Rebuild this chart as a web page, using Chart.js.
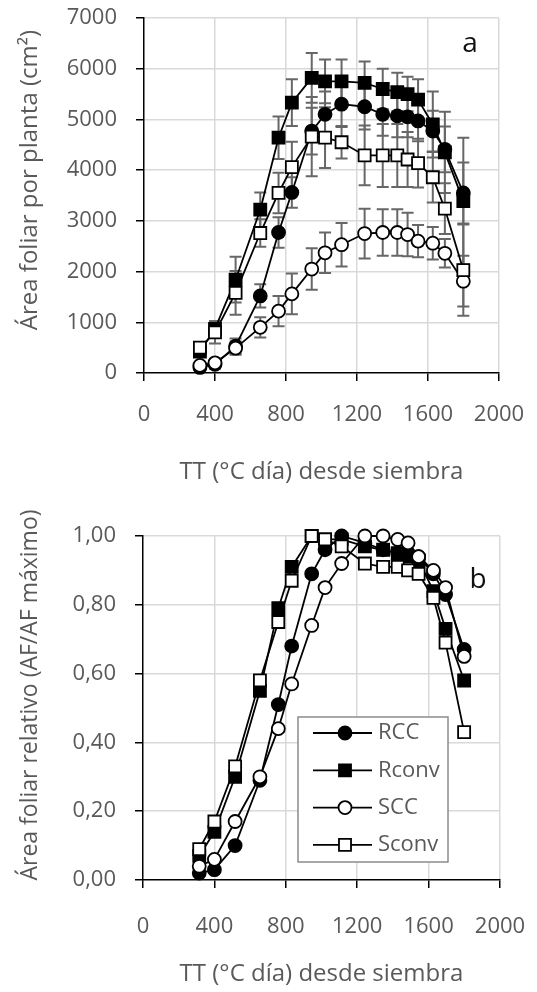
<!DOCTYPE html>
<html>
<head>
<meta charset="utf-8">
<script src="https://cdn.jsdelivr.net/npm/chart.js@4.4.1/dist/chart.umd.min.js"></script>
<style>
  html, body { margin: 0; padding: 0; background: #fff; }
  #wrap { position: relative; width: 537px; height: 992px; }
  canvas { position: absolute; left: 0; }
</style>
</head>
<body>
<div id="wrap">
  <canvas id="chartA" width="537" height="496" style="top:0"></canvas>
  <canvas id="chartB" width="537" height="496" style="top:496px"></canvas>
</div>
<script>
// tiempo termico desde siembra (°C dia)
const tt = [315, 400, 516, 655, 758, 833, 945, 1020, 1113, 1243, 1345, 1427, 1485, 1544, 1627, 1695, 1799];
const xTicks = [0, 400, 800, 1200, 1600, 2000];
const seriesNames = ["RCC", "Rconv", "SCC", "Sconv"];

// (a) area foliar por planta, cm2
const rccArea   = [110, 170, 530, 1520, 2770, 3560, 4770, 5100, 5300, 5250, 5100, 5070, 5050, 4970, 4770, 4410, 3550];
const rconvArea = [420, 870, 1840, 3220, 4640, 5330, 5820, 5750, 5750, 5720, 5600, 5540, 5500, 5390, 4900, 4350, 3390];
const sccArea   = [150, 200, 490, 900, 1220, 1560, 2050, 2370, 2530, 2750, 2770, 2770, 2730, 2600, 2560, 2360, 1810];
const sconvArea = [500, 800, 1580, 2760, 3550, 4060, 4660, 4640, 4550, 4290, 4290, 4290, 4210, 4140, 3860, 3240, 2030];

// error bars (+/-), cm2
const rccErr   = [50, 80, 150, 230, 300, 300, 460, 450, 450, 450, 420, 420, 400, 400, 400, 450, 600];
const rconvErr = [100, 150, 450, 340, 420, 460, 490, 430, 430, 420, 400, 380, 340, 400, 650, 800, 1250];
const sccErr   = [40, 60, 130, 200, 300, 400, 410, 400, 430, 490, 460, 460, 430, 320, 320, 280, 500];
const sconvErr = [100, 220, 430, 270, 400, 500, 780, 600, 320, 590, 620, 620, 540, 480, 500, 500, 900];

// (b) area foliar relativa (AF/AF maximo)
const rccRel   = [0.02, 0.03, 0.10, 0.29, 0.51, 0.68, 0.89, 0.96, 1.00, 0.98, 0.96, 0.95, 0.95, 0.94, 0.89, 0.83, 0.67];
const rconvRel = [0.07, 0.14, 0.30, 0.55, 0.79, 0.91, 1.00, 0.99, 0.99, 0.97, 0.96, 0.95, 0.94, 0.93, 0.84, 0.73, 0.58];
const sccRel   = [0.04, 0.06, 0.17, 0.30, 0.44, 0.57, 0.74, 0.85, 0.92, 1.00, 1.00, 0.99, 0.98, 0.94, 0.90, 0.85, 0.65];
const sconvRel = [0.09, 0.17, 0.33, 0.58, 0.75, 0.87, 1.00, 0.99, 0.97, 0.92, 0.91, 0.91, 0.90, 0.89, 0.82, 0.69, 0.43];

const FONT = "'Open Sans', sans-serif";
const GREY = "#595959";

const markers = [
  { pointStyle: "circle", fill: "#000", radius: 6.5 },
  { pointStyle: "rect",   fill: "#000", radius: 8.5 },
  { pointStyle: "circle", fill: "#fff", radius: 6.5 },
  { pointStyle: "rect",   fill: "#fff", radius: 8.5 },
];

function makeDatasets(valueLists, errLists) {
  return valueLists.map((vals, i) => ({
    label: seriesNames[i],
    data: tt.map((x, j) => ({ x: x, y: vals[j] })),
    errors: errLists ? errLists[i] : null,
    borderColor: "#000",
    borderWidth: 1.8,
    tension: 0,
    pointStyle: markers[i].pointStyle,
    pointRadius: markers[i].radius,
    pointBackgroundColor: markers[i].fill,
    pointBorderColor: "#000",
    pointBorderWidth: 1.8,
    order: 4 - i, // later series on top, like the original
    clip: false,
  }));
}

// vertical error bars drawn through the chart's own scales
const errorBars = {
  id: "errorBars",
  beforeDatasetsDraw(chart) {
    const { ctx, scales } = chart;
    const cap = 6;
    ctx.save();
    ctx.strokeStyle = "#676767";
    ctx.lineWidth = 2;
    chart.data.datasets.forEach(ds => {
      if (!ds.errors) return;
      ds.data.forEach((p, i) => {
        const px = scales.x.getPixelForValue(p.x);
        const hi = scales.y.getPixelForValue(p.y + ds.errors[i]);
        const lo = scales.y.getPixelForValue(p.y - ds.errors[i]);
        ctx.beginPath();
        ctx.moveTo(px, hi); ctx.lineTo(px, lo);
        ctx.moveTo(px - cap, hi); ctx.lineTo(px + cap, hi);
        ctx.moveTo(px - cap, lo); ctx.lineTo(px + cap, lo);
        ctx.stroke();
      });
    });
    ctx.restore();
  }
};

// extra texts: y-axis title (rotated), panel letter
const panelText = {
  id: "panelText",
  afterDraw(chart, args, o) {
    const ctx = chart.ctx;
    ctx.save();
    ctx.fillStyle = GREY;
    ctx.font = o.titleSize + "px " + FONT;
    ctx.textAlign = "center";
    ctx.textBaseline = "middle";
    ctx.translate(o.titleX, o.titleY);
    ctx.rotate(-Math.PI / 2);
    ctx.fillText(o.title, 0, 0);
    ctx.restore();

    ctx.save();
    ctx.fillStyle = "#111";
    ctx.font = "28px " + FONT;
    ctx.textAlign = "center";
    ctx.textBaseline = "alphabetic";
    ctx.fillText(o.letter, o.letterX, o.letterY);
    ctx.restore();
  }
};

// legend box inside the plot of panel b
const boxLegend = {
  id: "boxLegend",
  afterDatasetsDraw(chart, args, o) {
    if (!o.show) return;
    const ctx = chart.ctx;
    ctx.save();
    ctx.fillStyle = "#fff";
    ctx.fillRect(o.x, o.y, o.w, o.h);
    ctx.strokeStyle = "#8c8c8c";
    ctx.lineWidth = 1.5;
    ctx.strokeRect(o.x, o.y, o.w, o.h);
    chart.data.datasets.forEach((ds, i) => {
      const cy = o.y + 16 + i * 37.3;
      ctx.strokeStyle = "#000";
      ctx.lineWidth = 1.8;
      ctx.beginPath();
      ctx.moveTo(o.x + 15, cy);
      ctx.lineTo(o.x + 74, cy);
      ctx.stroke();
      ctx.fillStyle = ds.pointBackgroundColor;
      Chart.helpers.drawPoint(ctx, {
        pointStyle: ds.pointStyle, radius: ds.pointRadius, borderWidth: ds.pointBorderWidth, rotation: 0
      }, o.x + 47, cy);
      ctx.fillStyle = GREY;
      ctx.font = "22px " + FONT;
      ctx.textAlign = "left";
      ctx.textBaseline = "middle";
      ctx.fillText(ds.label, o.x + 80, cy);
    });
    ctx.restore();
  }
};

function scalesFor(yMin, yMax, yStep, yFmt, yWidth, xHeight, xPad, xTitlePad) {
  const hideZero = c => (c.tick && c.tick.value === 0) ? "rgba(0,0,0,0)" : "#d9d9d9";
  return {
    x: {
      type: "linear",
      min: 0, max: 2000,
      afterBuildTicks: s => { s.ticks = xTicks.map(v => ({ value: v })); },
      afterFit: s => { s.height = xHeight; s.paddingLeft = 0; s.paddingRight = 0; },
      grid: { color: hideZero, lineWidth: 1.5, tickColor: "#000", tickLength: 8, tickWidth: 1.5 },
      border: { color: "#000", width: 1.5 },
      ticks: { color: GREY, font: { family: FONT, size: 22 }, padding: xPad, maxRotation: 0,
               callback: v => String(v) },
      title: { display: true, text: "TT (°C día) desde siembra", color: GREY,
               font: { family: FONT, size: 24 }, padding: { top: 0, bottom: xTitlePad } },
    },
    y: {
      min: yMin, max: yMax,
      afterFit: s => { s.width = yWidth; s.paddingTop = 0; s.paddingBottom = 0; },
      grid: { color: hideZero, lineWidth: 1.5, tickColor: "#000", tickLength: 8, tickWidth: 1.5 },
      border: { color: "#000", width: 1.5 },
      ticks: { stepSize: yStep, color: GREY, font: { family: FONT, size: 22 }, padding: 19,
               callback: yFmt },
    },
  };
}

new Chart(document.getElementById("chartA"), {
  type: "line",
  data: { datasets: makeDatasets([rccArea, rconvArea, sccArea, sconvArea], [rccErr, rconvErr, sccErr, sconvErr]) },
  options: {
    responsive: false,
    animation: false,
    layout: { padding: { left: 0, right: 38, top: 18, bottom: 0 } },
    plugins: {
      legend: { display: false },
      tooltip: { enabled: false },
      panelText: { title: "Área foliar por planta (cm²)", titleSize: 24, titleX: 30, titleY: 180,
                   letter: "a", letterX: 470, letterY: 52 },
      boxLegend: { show: false },
    },
    scales: scalesFor(0, 7000, 1000, v => String(v), 144, 123, 21, 9),
  },
  plugins: [errorBars, panelText, boxLegend],
});

new Chart(document.getElementById("chartB"), {
  type: "line",
  data: { datasets: makeDatasets([rccRel, rconvRel, sccRel, sconvRel], null) },
  options: {
    responsive: false,
    animation: false,
    layout: { padding: { left: 0, right: 37, top: 40, bottom: 0 } },
    plugins: {
      legend: { display: false },
      tooltip: { enabled: false },
      panelText: { title: "Área foliar relativo (AF/AF máximo)", titleSize: 23, titleX: 30, titleY: 199,
                   letter: "b", letterX: 478, letterY: 92 },
      boxLegend: { show: true, x: 298, y: 221, w: 150, h: 145 },
    },
    scales: scalesFor(0, 1, 0.2, v => v.toFixed(2).replace(".", ","), 143, 112, 26, 3),
  },
  plugins: [errorBars, panelText, boxLegend],
});
</script>
</body>
</html>
